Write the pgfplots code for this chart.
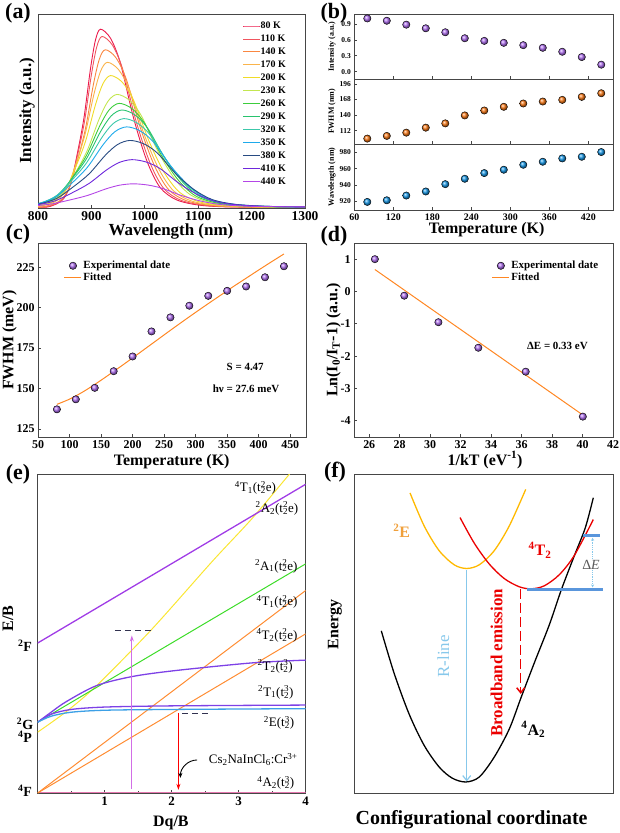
\documentclass[border=0pt]{standalone}
\usepackage{fontspec}
\setmainfont{Liberation Serif}
\usepackage{pgfplots}
\pgfplotsset{compat=1.18}
\usetikzlibrary{arrows.meta}

\definecolor{c80}{RGB}{235,25,75}
\definecolor{c110}{RGB}{240,85,95}
\definecolor{c140}{RGB}{250,135,65}
\definecolor{c170}{RGB}{250,180,75}
\definecolor{c200}{RGB}{240,220,40}
\definecolor{c230}{RGB}{195,230,80}
\definecolor{c260}{RGB}{60,205,60}
\definecolor{c290}{RGB}{40,195,110}
\definecolor{c320}{RGB}{60,200,170}
\definecolor{c350}{RGB}{30,170,235}
\definecolor{c380}{RGB}{40,75,130}
\definecolor{c410}{RGB}{110,40,220}
\definecolor{c440}{RGB}{180,70,230}
\definecolor{ballpurple}{RGB}{175,110,240}
\definecolor{ballorange}{RGB}{250,120,20}
\definecolor{ballblue}{RGB}{20,150,230}
\definecolor{fitorange}{RGB}{255,135,35}
\definecolor{framegray}{RGB}{70,70,70}
\definecolor{lpink}{RGB}{230,120,175}
\definecolor{lorange}{RGB}{255,140,50}
\definecolor{lyellow}{RGB}{250,230,50}
\definecolor{lgreen}{RGB}{60,220,40}
\definecolor{lviolet}{RGB}{160,60,230}
\definecolor{lpurple}{RGB}{125,65,230}
\definecolor{lblue}{RGB}{60,160,230}
\definecolor{dashgray}{RGB}{50,50,80}
\definecolor{arrowviolet}{RGB}{210,110,230}
\definecolor{fyellow}{RGB}{255,185,0}
\definecolor{fred}{RGB}{235,0,0}
\definecolor{flabelE}{RGB}{240,160,60}
\definecolor{rline}{RGB}{135,200,235}
\definecolor{deblue}{RGB}{90,150,220}

\newcommand{\tsq}{t\rlap{\textsuperscript{2}}\textsubscript{2}}
\newcommand{\tcu}{t\rlap{\textsuperscript{3}}\textsubscript{2}}

\pgfplotsset{
  panel/.style={
    scale only axis, anchor=south west,
    axis line style={draw=framegray, line width=0.9pt},
    tick style={draw=framegray, line width=0.7pt},
    tick align=inside, major tick length=3pt, minor tick length=2pt,
    xtick pos=left, ytick pos=left,
    /pgf/number format/assume math mode=true,
    /pgf/number format/1000 sep={},
    tick label style={font=\fontsize{12}{14}\selectfont\bfseries},
    label style={font=\fontsize{16}{18}\selectfont\bfseries},
    xlabel style={anchor=center},
    ylabel style={anchor=center},
  },
  ballp/.style={only marks, mark=ball, mark size=3.7pt, mark options={ball color=#1}},
}

\begin{document}
\begin{tikzpicture}[x=1bp,y=1bp]
\path[use as bounding box] (0,0) rectangle (620,833);

% ---------------- (a)
\begin{axis}[panel, at={(38bp,625bp)}, width=267bp, height=194bp,
  xmin=800, xmax=1300, ymin=-3, ymax=583,
  xtick={800,900,1000,1100,1200,1300}, ytick=\empty,
  tick label style={font=\fontsize{13.5}{15}\selectfont\bfseries},
  xlabel={Wavelength (nm)}, ylabel={Intensity (a.u.)},
  xlabel style={at={(axis description cs:0.498,-0.119)}, font=\fontsize{17}{19}\selectfont\bfseries},
  ylabel style={at={(axis description cs:-0.041,0.5)}, font=\fontsize{17}{19}\selectfont\bfseries},
  legend style={at={(axis description cs:0.755,0.975)}, anchor=north west, draw=none, fill=none,
    font=\fontsize{10}{11}\selectfont\bfseries, nodes={inner sep=0pt, text height=8pt, text depth=2pt},
    row sep=3pt},
  legend cell align=left,
  every axis plot/.append style={smooth, line width=0.9pt}]
\addplot[c80] coordinates {(800,0)(817.8,0)(836.4,10.7)(848.8,26.9)(861.2,69.8)(873.6,161.1)(886,268.5)(898.4,418.9)(907.7,504.8)(917,537)(935.6,510.2)(954.2,435)(979,268.5)(1003.8,139.6)(1028.6,59.1)(1059.6,21.5)(1103,5.4)(1165,0)(1300,0)};
\addlegendentry{80 K}
\addplot[c110] coordinates {(800,0)(814.4,0)(834.2,10.3)(847.4,25.8)(860.6,67.0)(873.8,154.5)(887,257.5)(900.2,401.7)(910.1,484.1)(920,515)(939.2,489.3)(958.4,417.2)(984,257.5)(1009.6,133.9)(1035.2,56.7)(1067.2,20.6)(1112,5.2)(1176,0)(1300,0)};
\addlegendentry{110 K}
\addplot[c140] coordinates {(800,0)(807.6,0)(829.8,9.5)(844.6,23.8)(859.4,61.8)(874.2,142.5)(889,237.5)(903.8,370.5)(914.9,446.5)(926,475)(945.8,451.3)(965.6,384.8)(992,237.5)(1018.4,123.5)(1044.8,52.3)(1077.8,19)(1124,4.8)(1190,0)(1300,0)};
\addlegendentry{140 K}
\addplot[c170] coordinates {(795.6,0)(820.8,8.7)(837.6,21.9)(854.4,56.8)(871.2,131.1)(888,218.5)(904.8,340.9)(917.4,410.8)(930,437)(950.7,415.2)(971.4,354)(999,218.5)(1026.6,113.6)(1054.2,48.1)(1088.7,17.5)(1137,4.4)(1206,0)(1300,0)};
\addlegendentry{170 K}
\addplot[c200] coordinates {(785.6,0)(813.8,7.9)(832.6,19.9)(851.4,51.6)(870.2,119.1)(889,198.5)(907.8,309.7)(921.9,373.2)(936,397)(957.6,377.2)(979.2,321.6)(1008,198.5)(1036.8,103.2)(1065.6,43.7)(1101.6,15.9)(1152,4)(1224,0)(1300,0)};
\addlegendentry{200 K}
\addplot[c230] coordinates {(768.8,0)(802.4,6.8)(824.8,17)(847.2,44.2)(869.6,102)(892,170)(914.4,265.2)(931.2,319.6)(948,340)(970.8,323)(993.6,275.4)(1024,170)(1054.4,88.4)(1084.8,37.4)(1122.8,13.6)(1176,3.4)(1252,0)(1300,0)};
\addlegendentry{230 K}
\addplot[c260] coordinates {(756.8,0)(793.4,6.3)(817.8,15.7)(842.2,40.7)(866.6,93.9)(891,156.5)(915.4,244.1)(933.7,294.2)(952,313)(975.7,297.4)(999.4,253.5)(1031,156.5)(1062.6,81.4)(1094.2,34.4)(1133.7,12.5)(1189,3.1)(1268,0)(1300,0)};
\addlegendentry{260 K}
\addplot[c290] coordinates {(745.8,0)(785.4,5.9)(811.8,14.7)(838.2,38.1)(864.6,87.9)(891,146.5)(917.4,228.5)(937.2,275.4)(957,293)(981.3,278.4)(1005.6,237.3)(1038,146.5)(1070.4,76.2)(1102.8,32.2)(1143.3,11.7)(1200,2.9)(1281,0)(1300,0)};
\addlegendentry{290 K}
\addplot[c320] coordinates {(737,0)(779,5.3)(807,13.4)(835,34.7)(863,80.1)(891,133.5)(919,208.3)(940,251)(961,267)(985.9,253.7)(1010.8,216.3)(1044,133.5)(1077.2,69.4)(1110.4,29.4)(1151.9,10.7)(1210,2.7)(1293,0)};
\addlegendentry{320 K}
\addplot[c350] coordinates {(732.4,0)(776.2,4.8)(805.4,12.1)(834.6,31.5)(863.8,72.6)(893,121)(922.2,188.8)(944.1,227.5)(966,242)(991.2,229.9)(1016.4,196)(1050,121)(1083.6,62.9)(1117.2,26.6)(1159.2,9.7)(1218,2.4)(1302,0)};
\addlegendentry{350 K}
\addplot[c380] coordinates {(728.8,0)(774.4,4)(804.8,10.1)(835.2,26.1)(865.6,60.3)(896,100.5)(926.4,156.8)(949.2,188.9)(972,201)(997.8,191)(1023.6,162.8)(1058,100.5)(1092.4,52.3)(1126.8,22.1)(1169.8,8)(1230,2)(1316,0)};
\addlegendentry{380 K}
\addplot[c410] coordinates {(720,0)(768,2.9)(800,7.2)(832,18.6)(864,42.9)(896,71.5)(928,111.5)(952,134.4)(976,143)(1002.4,135.9)(1028.8,115.8)(1064,71.5)(1099.2,37.2)(1134.4,15.7)(1178.4,5.7)(1240,1.4)(1328,0)};
\addlegendentry{410 K}
\addplot[c440] coordinates {(706,0)(757,1.4)(791,3.5)(825,9.1)(859,21)(893,35)(927,54.6)(952.5,65.8)(978,70)(1005,66.5)(1032,56.7)(1068,35)(1104,18.2)(1140,7.7)(1185,2.8)(1248,0.7)(1338,0)};
\addlegendentry{440 K}
\end{axis}

% ---------------- (b) top
\begin{axis}[panel, at={(354.3bp,754bp)}, width=259.3bp, height=65bp,
  xmin=60, xmax=459, ymin=-0.14, ymax=1.09,
  xtick={60,120,...,420}, xticklabels={},
  ytick={0,0.3,0.6,0.9},
  yticklabel style={/pgf/number format/fixed, /pgf/number format/fixed zerofill, /pgf/number format/precision=1, font=\fontsize{7.5}{9}\selectfont\bfseries},
  ylabel={Intensity (a.u.)},
  ylabel style={at={(axis description cs:-0.086,0.5)}, font=\fontsize{8}{9}\selectfont\bfseries}]
\addplot[ballp=ballpurple] coordinates {(80,1.006)(110,0.962)(140,0.888)(170,0.819)(200,0.744)(230,0.631)(260,0.581)(290,0.544)(320,0.500)(350,0.450)(380,0.375)(410,0.275)(440,0.131)};
\end{axis}
% (b) middle
\begin{axis}[panel, at={(354.3bp,689bp)}, width=259.3bp, height=65bp,
  xmin=60, xmax=459, ymin=88, ymax=205,
  xtick={60,120,...,420}, xticklabels={},
  ytick={112,140,168,196},
  yticklabel style={font=\fontsize{7.5}{9}\selectfont\bfseries},
  ylabel={FWHM (nm)},
  ylabel style={at={(axis description cs:-0.086,0.5)}, font=\fontsize{8}{9}\selectfont\bfseries}]
\addplot[ballp=ballorange] coordinates {(80,97.7)(110,102.5)(140,108.4)(170,117.4)(200,125.1)(230,139.4)(260,148.3)(290,154.9)(320,160.9)(350,164.4)(380,167.4)(410,172.8)(440,179.3)};
\end{axis}
% (b) bottom
\begin{axis}[panel, at={(354.3bp,623bp)}, width=259.3bp, height=66bp,
  xmin=60, xmax=459, ymin=909.3, ymax=990.3,
  xtick={60,120,...,420},
  ytick={920,940,960,980},
  xticklabel style={font=\fontsize{10}{12}\selectfont\bfseries},
  yticklabel style={font=\fontsize{7.5}{9}\selectfont\bfseries},
  xlabel={Temperature (K)}, ylabel={Wavelength (nm)},
  xlabel style={at={(axis description cs:0.51,-0.303)}},
  ylabel style={at={(axis description cs:-0.086,0.5)}, font=\fontsize{8}{9}\selectfont\bfseries}]
\addplot[ballp=ballblue] coordinates {(80,919.2)(110,921.2)(140,927)(170,932)(200,941)(230,947.6)(260,954.6)(290,958.7)(320,964.8)(350,968.5)(380,972.6)(410,974.6)(440,980.4)};
\end{axis}

% ---------------- (c)
\begin{axis}[panel, at={(38bp,396bp)}, width=268bp, height=194bp,
  xmin=50, xmax=475, ymin=120, ymax=240,
  xtick={50,100,...,450}, ytick={125,150,...,225},
  xlabel={Temperature (K)}, ylabel={FWHM (meV)},
  xlabel style={at={(axis description cs:0.499,-0.127)}},
  ylabel style={at={(axis description cs:-0.106,0.5)}},
  legend style={at={(axis description cs:0.085,0.925)}, anchor=north west, draw=none, fill=none,
    font=\fontsize{11}{13}\selectfont\bfseries, nodes={inner sep=1.5pt}, row sep=0pt},
  legend cell align=left]
\addplot[ballp=ballpurple] coordinates {(80,137.1)(110,143.3)(140,150.4)(170,160.7)(200,169.8)(230,185.3)(260,194.0)(290,201.2)(320,207.3)(350,210.4)(380,213.1)(410,218.8)(440,225.6)};
\addlegendentry{Experimental date}
\addplot[color=fitorange, line width=1pt, smooth, no markers] coordinates {(80,140.2)(100,143.4)(120,147.6)(140,152.5)(160,157.8)(180,163.3)(200,168.9)(220,174.6)(240,180.3)(260,186.0)(280,191.6)(300,197.1)(320,202.5)(340,207.8)(360,213.1)(380,218.2)(400,223.3)(420,228.3)(440,233.2)};
\addlegendentry{Fitted}
\node[font=\fontsize{11}{13}\selectfont\bfseries] at (axis cs:378.6,163.2) {S = 4.47};
\node[font=\fontsize{11}{13}\selectfont\bfseries] at (axis cs:380,149.6) {hν = 27.6 meV};
\end{axis}

% ---------------- (d)
\begin{axis}[panel, at={(354bp,396bp)}, width=259bp, height=194bp,
  xmin=25, xmax=42, ymin=-4.5, ymax=1.5,
  xtick={26,28,...,42}, ytick={-4,-3,...,1},
  xlabel={1/kT (eV\textsuperscript{-1})}, ylabel={Ln(I\textsubscript{0}/I\textsubscript{T}-1) (a.u.)},
  xlabel style={at={(axis description cs:0.506,-0.119)}},
  ylabel style={at={(axis description cs:-0.079,0.5)}},
  legend style={at={(axis description cs:0.52,0.925)}, anchor=north west, draw=none, fill=none,
    font=\fontsize{11}{13}\selectfont\bfseries, nodes={inner sep=1.5pt}, row sep=0pt},
  legend cell align=left]
\addplot[ballp=ballpurple] coordinates {(26.37,1.0)(28.30,-0.13)(30.54,-0.95)(33.16,-1.74)(36.27,-2.48)(40.02,-3.87)};
\addlegendentry{Experimental date}
\addplot[color=fitorange, line width=1pt, no markers] coordinates {(26.37,0.68)(40.02,-3.82)};
\addlegendentry{Fitted}
\node[font=\fontsize{11}{13}\selectfont\bfseries] at (axis cs:38.35,-1.69) {ΔE = 0.33 eV};
\end{axis}

% ---------------- (e)
\begin{axis}[panel, at={(37.7bp,40bp)}, width=268bp, height=318.3bp,
  xmin=0, xmax=4, ymin=0, ymax=80,
  xtick={1,2,3,4}, minor xtick={0.5,1.5,2.5,3.5}, ytick=\empty,
  tick label style={font=\fontsize{13}{15}\selectfont\bfseries},
  xlabel={Dq/B}, ylabel={E/B},
  xlabel style={at={(axis description cs:0.497,-0.093)}},
  ylabel style={at={(axis description cs:-0.111,0.548)}}]
\addplot[lpink, line width=1.3pt] coordinates {(0,0.15)(4,0.15)};
\addplot[lorange, line width=1pt] coordinates {(0,0)(4,40)};
\addplot[lorange, line width=1pt] coordinates {(0,0)(4,50.9)};
\addplot[lyellow, line width=1pt, smooth] coordinates {(0,15.3)(0.43,20.5)(0.88,27)(1.7,41.1)(2.61,58.3)(3.2,69)(3.75,80)(3.8,81)};
\addplot[lgreen, line width=1pt] coordinates {(0,17.8)(4,57.6)};
\addplot[lviolet, line width=1.3pt] coordinates {(0,37.7)(4,77.6)};
\addplot[lpurple, line width=1.3pt, smooth] coordinates {(0,17.8)(0.2,20.3)(0.43,23.0)(0.88,27.0)(1.42,29.3)(2.07,30.8)(3.2,32.7)(4,33.4)};
\addplot[lpurple, line width=1.3pt, smooth] coordinates {(0,17.8)(0.2,19.8)(0.5,21.0)(1,21.6)(2,21.9)(4,22.1)};
\addplot[lblue, line width=1.3pt, smooth] coordinates {(0,17.8)(0.2,19.3)(0.5,20.3)(1,20.8)(2,21.0)(4,21.2)};
\addplot[dashgray, line width=1pt, dash pattern=on 6bp off 4bp] coordinates {(1.15,40.9)(1.69,40.9)};
\addplot[dashgray, line width=1pt, dash pattern=on 6bp off 4bp] coordinates {(2.16,20.1)(2.56,20.1)};
\draw[arrowviolet, line width=1.2pt, -{Stealth[length=6pt,width=4pt]}] (axis cs:1.405,1.0) -- (axis cs:1.405,39.6);
\draw[red, line width=1pt, -{Stealth[length=6pt,width=4pt]}] (axis cs:2.10,20.1) -- (axis cs:2.10,0.8);
\draw[black, line width=0.9pt, -{Stealth[length=5pt,width=4pt]}] (axis cs:2.38,8.3) to[out=180,in=90] (axis cs:2.13,3.8);
\begin{scope}[every node/.style={font=\fontsize{13}{15}\selectfont}]
\node at (axis cs:3.25,76.7) {\textsuperscript{4}T\textsubscript{1}(\tsq e)};
\node[anchor=east] at (axis cs:3.94,71.5) {\textsuperscript{2}A\textsubscript{2}(\tsq e)};
\node[anchor=east] at (axis cs:3.93,57.0) {\textsuperscript{2}A\textsubscript{1}(\tsq e)};
\node[anchor=east] at (axis cs:3.93,48.1) {\textsuperscript{4}T\textsubscript{1}(\tsq e)};
\node[anchor=east] at (axis cs:3.93,39.6) {\textsuperscript{4}T\textsubscript{2}(\tsq e)};
\node[anchor=east] at (axis cs:3.86,31.8) {\textsuperscript{2}T\textsubscript{2}(\tcu)};
\node[anchor=east] at (axis cs:3.87,25.3) {\textsuperscript{2}T\textsubscript{1}(\tcu)};
\node[anchor=east] at (axis cs:3.88,17.7) {\textsuperscript{2}E(\tcu)};
\node[anchor=east] at (axis cs:3.93,8.4) {Cs\textsubscript{2}NaInCl\textsubscript{6}:Cr\textsuperscript{3+}};
\node[anchor=east] at (axis cs:3.88,2.6) {\textsuperscript{4}A\textsubscript{2}(\tcu)};
\end{scope}
\end{axis}

% ---------------- (f)
\begin{axis}[panel, at={(354.3bp,40bp)}, width=259bp, height=318.3bp,
  xmin=0, xmax=259, ymin=0, ymax=318, xtick=\empty, ytick=\empty,
  xlabel={Configurational coordinate}, ylabel={Energy},
  xlabel style={at={(axis description cs:0.453,-0.084)}, font=\fontsize{20}{22}\selectfont\bfseries},
  ylabel style={at={(axis description cs:-0.075,0.529)}, font=\fontsize{16}{18}\selectfont\bfseries}]
\addplot[black, line width=1.3pt, smooth] coordinates {(27,162)(40,119.1)(55,78.4)(70,47.3)(85,25.8)(98,14.8)(111.4,11)(125,16)(140,36)(155,64)(167,96)(180,130)(195,168)(207,203)(220,237)(231,265)(239,295)};
\addplot[fyellow, line width=1.3pt, smooth] coordinates {(55.7,299.8)(70,266.5)(85,241.9)(100,227.9)(112.4,224.3)(125,228)(140,242.2)(155,266.9)(171.4,303.3)};
\addplot[fred, line width=1.3pt, smooth] coordinates {(105.7,275.2)(120,249.5)(135,228.7)(150,214.2)(165,206)(177,204)(190,207)(205,218.1)(220,237.3)(239,273.2)};
\addplot[deblue, line width=2.8pt] coordinates {(172.4,203.3)(248.4,203.3)};
\addplot[deblue, line width=2.8pt] coordinates {(228.3,257.3)(245.7,257.3)};
\draw[rline, line width=0.8pt, densely dotted, {Stealth[length=3pt,width=3pt]}-{Stealth[length=3pt,width=3pt]}] (axis cs:238.3,205.5) -- (axis cs:238.3,255);
\node[fill=white, inner sep=1pt, text=black!65, font=\fontsize{14}{16}\selectfont] at (axis cs:236.7,228.3) {Δ\textit{E}};
\draw[rline, line width=1.2pt, -{Straight Barb[length=5pt,width=8pt]}] (axis cs:112.4,223) -- (axis cs:112.4,11.5);
\draw[fred, line width=1.5pt, dash pattern=on 10bp off 4bp, -{Straight Barb[length=5pt,width=8pt]}] (axis cs:166.4,204) -- (axis cs:166.4,99);
\node[rotate=90, text=rline, font=\fontsize{17}{19}\selectfont] at (axis cs:89,136.6) {R-line};
\node[rotate=90, text=fred, font=\fontsize{17}{19}\selectfont\bfseries] at (axis cs:142.3,130) {Broadband emission};
\node[text=fred, font=\fontsize{16}{18}\selectfont\bfseries] at (axis cs:185.7,242.6) {\textsuperscript{4}T\textsubscript{2}};
\node[text=flabelE, font=\fontsize{16}{18}\selectfont\bfseries] at (axis cs:47.4,261.6) {\textsuperscript{2}E};
\node[text=black, font=\fontsize{16}{18}\selectfont\bfseries] at (axis cs:179,63.3) {\textsuperscript{4}A\textsubscript{2}};
\end{axis}

% ---------- outside labels
\begin{scope}[every node/.style={font=\fontsize{22}{24}\selectfont\bfseries}]
\node at (18,820) {(a)};
\node at (334,820) {(b)};
\node at (18,599) {(c)};
\node at (334,597) {(d)};
\node at (18,359) {(e)};
\node at (335,361) {(f)};
\end{scope}
\begin{scope}[every node/.style={font=\fontsize{14}{16}\selectfont\bfseries}]
\node at (25,187.5) {\textsuperscript{2}F};
\node at (25,109) {\textsuperscript{2}G};
\node at (25,96) {\textsuperscript{4}P};
\node at (25,42) {\textsuperscript{4}F};
\end{scope}
\end{tikzpicture}
\end{document}
